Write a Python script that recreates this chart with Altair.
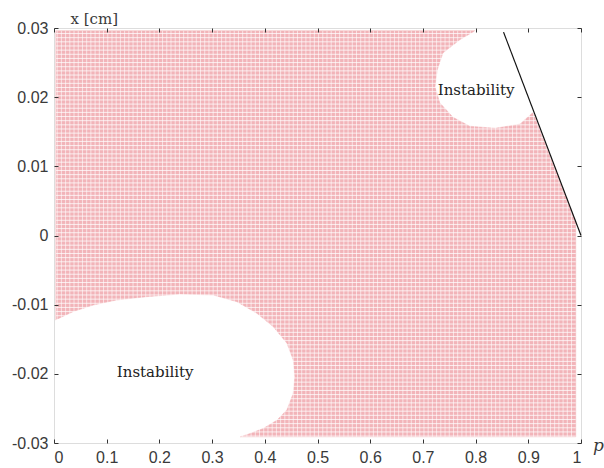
import altair as alt
import pandas as pd

# Stable (pink) region boundary, traced clockwise: p values and x [cm] values
region_p = [0.003, 0.799, 0.770, 0.738, 0.727, 0.723, 0.732, 0.757, 0.789, 0.837,
            0.884, 0.909, 0.990, 0.990, 0.353, 0.366, 0.397, 0.423, 0.442, 0.454,
            0.457, 0.454, 0.442, 0.416, 0.385, 0.347, 0.302, 0.239, 0.176, 0.119,
            0.0746, 0.0366, 0.003]
region_x = [0.0296, 0.0296, 0.0283, 0.0264, 0.0239, 0.0215, 0.0192, 0.0171, 0.0158, 0.0155,
            0.0161, 0.0178, 0.0020, -0.0291, -0.0291, -0.0288, -0.0279, -0.0267, -0.0252, -0.0228,
            -0.0204, -0.0180, -0.01558, -0.01318, -0.01125, -0.00957, -0.0086, -0.00846, -0.00885, -0.00932,
            -0.01005, -0.0110, -0.0122]

# Boundary line
line_p = [0.853, 1.0]
line_x = [0.0294, 0.0]

# Labels
label_text = ["Instability", "Instability"]
label_p = [0.192, 0.801]
label_x = [-0.0197, 0.0210]

x_ticks = [0, 0.1, 0.2, 0.3, 0.4, 0.5, 0.6, 0.7, 0.8, 0.9, 1]
y_ticks = [-0.03, -0.02, -0.01, 0, 0.01, 0.02, 0.03]

PINK = "#f2b4b9"
TXT = "#3a3a3a"
SERIF = "DejaVu Serif"

region_df = pd.DataFrame({"p": region_p, "x": region_x, "i": list(range(len(region_p)))})
line_df = pd.DataFrame({"p": line_p, "x": line_x, "i": [0, 1]})
label_df = pd.DataFrame({"p": label_p, "x": label_x, "t": label_text})

xscale = alt.Scale(domain=[0, 1], nice=False, zero=False)
yscale = alt.Scale(domain=[-0.03, 0.03], nice=False, zero=False)

lab_expr = "replace(format(datum.value, '~g'), '\u2212', '-')"

bottom_axis = alt.Axis(orient="bottom", values=x_ticks, labelExpr=lab_expr, offset=-4,
                       tickSize=4, labelPadding=6, domain=False, grid=False,
                       labelFont="Liberation Sans", labelFontSize=16, labelColor=TXT,
                       tickColor="#333", zindex=1,
                       title="p", titleFont=SERIF, titleFontStyle="italic",
                       titleFontWeight="normal", titleFontSize=17, titleColor=TXT,
                       titleX=544, titleY=11, titleAlign="center", titleBaseline="alphabetic")
left_axis = alt.Axis(orient="left", values=y_ticks, labelExpr=lab_expr, offset=-4,
                     tickSize=4, labelPadding=6, domain=False, grid=False,
                     labelFont="Liberation Sans", labelFontSize=16, labelColor=TXT,
                     tickColor="#333", zindex=1,
                     title="x [cm]", titleFont=SERIF, titleFontWeight="normal",
                     titleFontSize=15, titleColor=TXT, titleAngle=0,
                     titleX=12, titleY=-10, titleAlign="left", titleBaseline="middle")
top_axis = alt.Axis(orient="top", values=x_ticks, offset=-4, tickSize=4, labels=False,
                    domain=False, grid=False, tickColor="#333", zindex=1, title="")
right_axis = alt.Axis(orient="right", values=y_ticks, offset=-4, tickSize=4, labels=False,
                      domain=False, grid=False, tickColor="#333", zindex=1, title="")

region = alt.Chart(region_df).mark_line(color=PINK, fill=PINK, strokeWidth=0.5).encode(
    x=alt.X("p:Q", scale=xscale, axis=bottom_axis),
    y=alt.Y("x:Q", scale=yscale, axis=left_axis),
    order="i:Q",
)

# fine white texture of the sampled grid (only visible over the pink region)
hlines = alt.Chart(alt.sequence(-0.0290, 0.0296, 0.0006, as_="v")).mark_rule(
    color="white", strokeWidth=1, opacity=0.75
).encode(
    y=alt.Y("v:Q", scale=yscale, axis=None),
    x=alt.XDatum(0.004, scale=xscale, axis=None),
    x2=alt.X2Datum(0.99),
)
vlines = alt.Chart(alt.sequence(0.006, 0.99, 0.008, as_="v")).mark_rule(
    color="white", strokeWidth=1, opacity=0.6
).encode(
    x=alt.X("v:Q", scale=xscale, axis=None),
    y=alt.YDatum(-0.0291, scale=yscale, axis=None),
    y2=alt.Y2Datum(0.0296),
)

bline = alt.Chart(line_df).mark_line(color="#111", strokeWidth=1.2).encode(
    x=alt.X("p:Q", scale=xscale, axis=top_axis),
    y=alt.Y("x:Q", scale=yscale, axis=right_axis),
    order="i:Q",
)

labels = alt.Chart(label_df).mark_text(font=SERIF, fontSize=15, color="#222").encode(
    x=alt.X("p:Q", scale=xscale, axis=None),
    y=alt.Y("x:Q", scale=yscale, axis=None),
    text="t:N",
)

chart = alt.layer(region, hlines, vlines, bline, labels).resolve_axis(
    x="independent", y="independent"
).properties(
    width=527, height=415,
    autosize=alt.AutoSizeParams(type="none"),
    padding={"left": 54, "top": 28, "right": 23, "bottom": 25},
).configure_view(stroke="#444", strokeWidth=1.2).configure(background="white")

chart.save("out.html", embed_options={"renderer": "svg", "actions": False})
